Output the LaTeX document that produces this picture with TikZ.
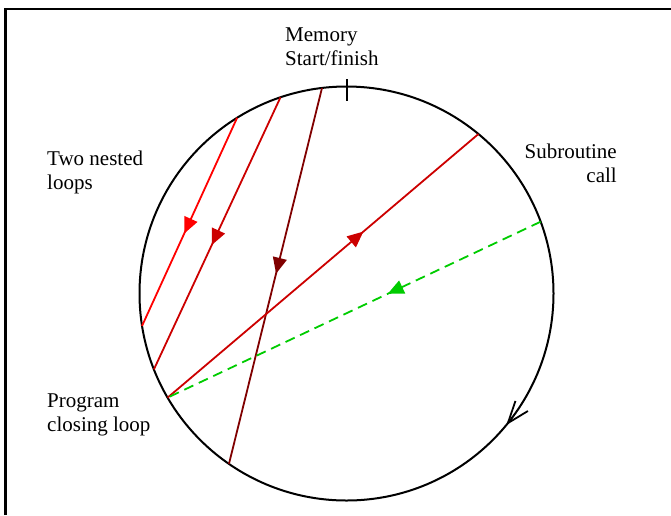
\documentclass[tikz,border=0pt]{standalone}
\usepackage{fontspec}
\setmainfont{Liberation Serif}
\usetikzlibrary{arrows.meta,decorations.markings}
\definecolor{redA}{HTML}{FF0000}
\definecolor{redB}{HTML}{CC0000}
\definecolor{redC}{HTML}{800000}
\definecolor{greenA}{HTML}{00CC00}
\begin{document}
\begin{tikzpicture}[x=1pt,y=1pt,
  lbl/.style={font=\fontsize{21}{24}\selectfont, inner sep=0pt},
  flow/.style={line width=1.8pt},
  midarrow/.style={postaction={decorate},
    decoration={markings,mark=at position #1 with {\arrow{Triangle[length=16pt,width=14pt]}}}},
  ring/.style={line width=2pt},
  frame/.style={line width=2.2pt},
]
\useasboundingbox (0,0) rectangle (671,-515);
\draw[frame] (5.5,-515) -- (5.5,-9) -- (671,-9);
\coordinate (c) at (346.5,-293.5);
\draw[ring] (c) circle[radius=207pt];
% points on the circle
\path (c) ++(121.9:207pt) coordinate (p1);
\path (c) ++(108.6:207pt) coordinate (p2);
\path (c) ++(96.8:207pt) coordinate (p3);
\path (c) ++(50.4:207pt) coordinate (p4);
\path (c) ++(20.3:207pt) coordinate (p5);
\path (c) ++(189.0:207pt) coordinate (q1);
\path (c) ++(201.5:207pt) coordinate (q2);
\path (c) ++(210.2:207pt) coordinate (q3);
\path (c) ++(235.4:207pt) coordinate (q4);
\path (c) ++(90:193pt) coordinate (k1);
\path (c) ++(90:215pt) coordinate (k2);
\path (c) ++(321.8:207pt) coordinate (t0);
\path (c) ++(320.5:207pt) coordinate (t1);
% tick at start/finish
\draw[ring] (k1) -- (k2);
% direction arrow on circle
\draw[line width=1.8pt, -{Straight Barb[length=22pt,width=16pt]}] (t0) -- (t1);
% loops
\draw[flow, redA, midarrow=0.556] (p1) -- (q1);
\draw[flow, redB, midarrow=0.543] (p2) -- (q2);
\draw[flow, redC, midarrow=0.494] (p3) -- (q4);
\draw[flow, redB, midarrow=0.63] (q3) -- (p4);
\draw[flow, greenA, dashed, dash pattern=on 10pt off 6pt, midarrow=0.41] (p5) -- (q3);
% labels (base anchor = baseline of the last line)
\node[lbl, anchor=base west, align=left] (mem) at (285,-65) {Memory\\Start/finish};
\node[lbl, anchor=base west, align=left] (nest) at (47,-189) {Two nested\\loops};
\node[lbl, anchor=base east, align=right] (sub) at (617,-182) {Subroutine\\call};
\node[lbl, anchor=base west, align=left] (prog) at (47,-431) {Program\\closing loop};
\end{tikzpicture}
\end{document}
